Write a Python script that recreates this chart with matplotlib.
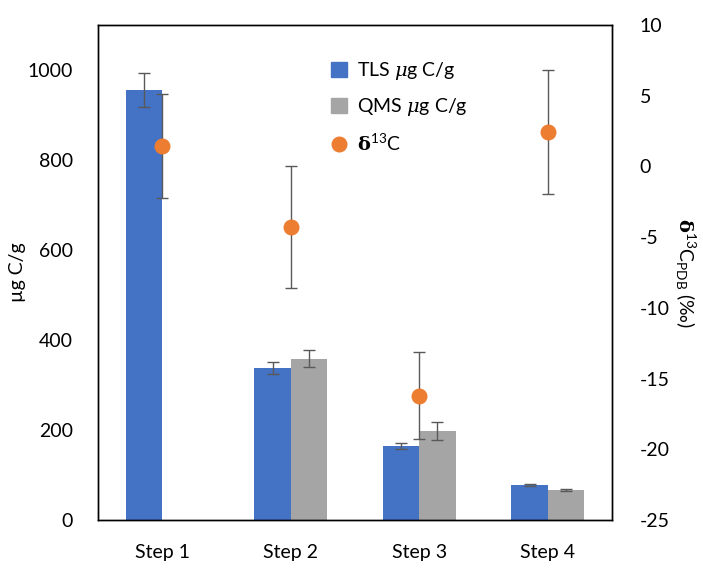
import matplotlib
matplotlib.use("Agg")
import matplotlib.pyplot as plt
import numpy as np
from matplotlib.lines import Line2D
from matplotlib.patches import Patch

steps = ["Step 1", "Step 2", "Step 3", "Step 4"]
tls = [955, 338, 164, 78]
tls_err = [38, 13, 6.5, 3]
qms = [np.nan, 358, 198, 67]
qms_err = [np.nan, 19, 20, 3]
d13c = [1.45, -4.3, -16.2, 2.45]
d13c_err = [3.7, 4.3, 3.05, 4.4]

plt.rcParams['font.family'] = ['Lato', 'DejaVu Sans']
plt.rcParams['axes.unicode_minus'] = False
plt.rcParams['mathtext.fontset'] = 'custom'
plt.rcParams['mathtext.rm'] = 'Lato'
plt.rcParams['mathtext.it'] = 'DejaVu Serif:italic'
plt.rcParams['mathtext.bf'] = 'DejaVu Serif:bold'

fig = plt.figure(figsize=(7.03, 5.68), dpi=100)
ax = fig.add_axes([98/703, 1-520/568, (612-98)/703, (520-25)/568])
x = np.arange(len(steps))
w = 0.284
blue = '#4472C4'
gray = '#A5A5A5'
orange = '#ED7D31'
ecol = '#595959'

ax.bar(x - w/2, tls, w, color=blue, yerr=tls_err, ecolor=ecol,
       error_kw=dict(elinewidth=1, capsize=4, capthick=1))
ax.bar(x + w/2, qms, w, color=gray, yerr=qms_err, ecolor=ecol,
       error_kw=dict(elinewidth=1, capsize=4, capthick=1))
ax.set_xlim(-0.5, 3.5)
ax.set_ylim(0, 1100)
ax.set_yticks([0, 200, 400, 600, 800, 1000])
ax.set_xticks(x)
ax.set_xticklabels(steps)
ax.tick_params(length=0, labelsize=14, pad=17)
ax.tick_params(axis='y', pad=18)
ax.set_ylabel('µg C/g', fontsize=14, labelpad=1)

ax2 = ax.twinx()
ax2.errorbar(x, d13c, yerr=d13c_err, fmt='o', color=orange, markersize=10.5,
             ecolor=ecol, elinewidth=1, capsize=4, capthick=1)
ax2.set_ylim(-25, 10)
ax2.set_yticks(np.arange(-25, 11, 5))
ax2.tick_params(length=0, labelsize=14, pad=20)
ax2.set_ylabel(r'$\mathbf{\delta}^{13}\mathrm{C}_{\mathrm{PDB}}$ (‰)', fontsize=14,
               rotation=270, labelpad=20)

for a in (ax, ax2):
    for s in a.spines.values():
        s.set_color('black')
        s.set_linewidth(1)

handles = [Patch(color=blue), Patch(color=gray),
           Line2D([], [], marker='o', color=orange, linestyle='none', markersize=10.5)]
labels = [r'TLS $\mathit{\mu}$g C/g', r'QMS $\mathit{\mu}$g C/g', r'$\mathbf{\delta}^{13}$C']
leg = ax2.legend(handles, labels, loc='upper left', bbox_to_anchor=(0.42, 0.965),
                 frameon=False, fontsize=14, handlelength=0.8, handleheight=0.8,
                 handletextpad=0.5, labelspacing=0.75)

fig.savefig('out.png', dpi=100)
